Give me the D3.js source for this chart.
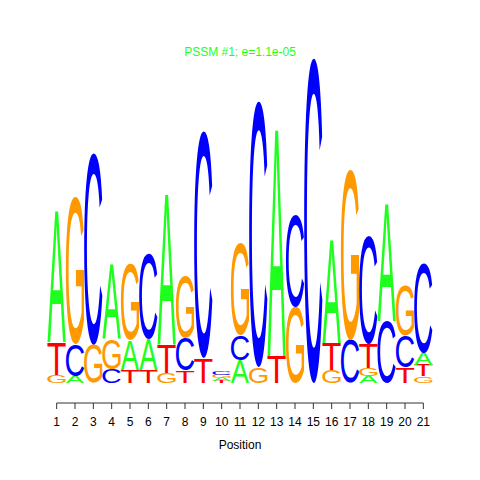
<!DOCTYPE html>
<html>
<head>
<meta charset="utf-8">
<script src="https://cdn.jsdelivr.net/npm/d3@7"></script>
<style>
  body { margin: 0; background: #fff; }
  svg { display: block; }
</style>
</head>
<body>
<script>
// letter heights in bits, one value per position
const positions = d3.range(1, 22);
const baseA = [0.765, 0.041, 0, 0.435, 0.176, 0.182, 0.882, 0, 0, 0.018, 0.135, 0, 1.329, 0, 0, 0.6, 0, 0.041, 0.682, 0, 0.071];
const baseC = [0, 0.188, 1.129, 0.082, 0, 0.5, 0, 0.194, 1.335, 0.021, 0.147, 1.565, 0, 0.541, 1.912, 0, 0.253, 0.635, 0.365, 0.182, 0.524];
const baseG = [0.047, 0.871, 0.224, 0.176, 0.453, 0, 0.059, 0.365, 0, 0.019, 0.541, 0.094, 0, 0.447, 0, 0.076, 1.0, 0.044, 0, 0.294, 0.041];
const baseT = [0.194, 0, 0, 0, 0.076, 0.076, 0.165, 0.071, 0.147, 0.012, 0, 0, 0.159, 0, 0, 0.159, 0, 0.141, 0, 0.094, 0.065];
const letters = ["A", "C", "G", "T"];
const colors = { A: "#1eff1e", C: "#0000ff", G: "#ff9900", T: "#ff0000" };
const title = "PSSM #1; e=1.1e-05";

const width = 480, height = 480;
const svg = d3.select("body").append("svg")
    .attr("width", width)
    .attr("height", height);

const x = d3.scaleBand()
    .domain(positions)
    .range([47.5, 432.5])
    .padding(0);
const y = d3.scaleLinear()
    .domain([0, 2])
    .range([383, 43]);

// measure the ink box of each glyph so it can be stretched to its cell
const ctx = document.createElement("canvas").getContext("2d");
const fontFamily = "Liberation Sans, Arial, sans-serif";
ctx.font = "100px " + fontFamily;
const ink = {};
letters.forEach(l => {
    const m = ctx.measureText(l);
    ink[l] = {
        left: m.actualBoundingBoxLeft,
        w: m.actualBoundingBoxLeft + m.actualBoundingBoxRight,
        asc: m.actualBoundingBoxAscent,
        h: m.actualBoundingBoxAscent + m.actualBoundingBoxDescent
    };
});

const columns = positions.map((p, i) => {
    const vals = { A: baseA[i], C: baseC[i], G: baseG[i], T: baseT[i] };
    // smallest at the bottom, largest on top
    const order = letters.filter(l => vals[l] > 0).sort((a, b) => vals[a] - vals[b]);
    let acc = 0;
    return order.map(l => {
        const d = { pos: p, letter: l, y0: acc, y1: acc + vals[l] };
        acc += vals[l];
        return d;
    });
}).flat();

svg.append("g")
  .selectAll("text")
  .data(columns)
  .join("text")
    .attr("font-family", fontFamily)
    .attr("font-size", 100)
    .attr("fill", d => colors[d.letter])
    .attr("transform", d => {
        const g = ink[d.letter];
        const w = x.bandwidth();
        const h = y(d.y0) - y(d.y1);
        return `translate(${x(d.pos)},${y(d.y1)}) scale(${w / g.w},${h / g.h}) translate(${g.left},${g.asc})`;
    })
    .text(d => d.letter);

// x axis, R style: line spanning first to last tick
const axisY = 403;
const ax = svg.append("g")
    .attr("transform", `translate(0,${axisY})`)
    .call(d3.axisBottom(x).tickSize(6).tickPadding(8).tickSizeOuter(0));
ax.select(".domain").remove();
ax.append("line")
    .attr("x1", x(1) + x.bandwidth() / 2)
    .attr("x2", x(21) + x.bandwidth() / 2)
    .attr("stroke", "#333");
ax.selectAll(".tick line").attr("stroke", "#333");
ax.selectAll(".tick text")
    .attr("font-family", fontFamily)
    .attr("font-size", 12)
    .attr("fill", "#000");

svg.append("text")
    .attr("x", 240)
    .attr("y", 449)
    .attr("text-anchor", "middle")
    .attr("font-family", fontFamily)
    .attr("font-size", 12)
    .text("Position");

svg.append("text")
    .attr("x", 240)
    .attr("y", 56)
    .attr("text-anchor", "middle")
    .attr("font-family", fontFamily)
    .attr("font-size", 12)
    .attr("fill", "#1eff1e")
    .text(title);
</script>
</body>
</html>
